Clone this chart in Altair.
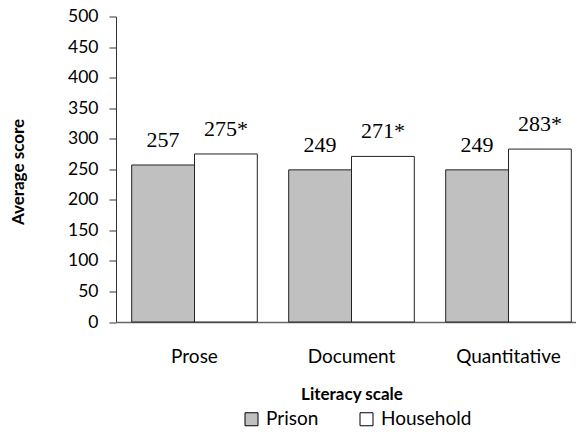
import altair as alt
import pandas as pd

categories = ["Prose", "Document", "Quantitative"]
groups = ["Prison", "Household"]
prison_scores = [257, 249, 249]
household_scores = [275, 271, 283]
household_marks = ["*", "*", "*"]
y_ticks = [0, 50, 100, 150, 200, 250, 300, 350, 400, 450, 500]

rows = []
for i, c in enumerate(categories):
    rows.append({"scale": c, "group": groups[0], "score": prison_scores[i],
                 "label": str(prison_scores[i])})
    rows.append({"scale": c, "group": groups[1], "score": household_scores[i],
                 "label": f"{household_scores[i]}{household_marks[i]}"})
df = pd.DataFrame(rows)

FONT = "Lato"

x = alt.X(
    "scale:N", sort=categories,
    scale=alt.Scale(range=[0, 471], paddingInner=0.2, paddingOuter=0.1),
    axis=alt.Axis(
        title="Literacy scale", labelAngle=0, ticks=False, tickSize=0,
        labelPadding=40, labelBaseline="alphabetic", labelFont=FONT,
        labelFontSize=19, labelColor="black", domainColor="#666666",
        domainWidth=1.5, titleFont=FONT, titleFontWeight="bold",
        titleFontSize=17, titleY=77.3, titleBaseline="alphabetic",
        titleColor="black",
    ),
)
xo = alt.XOffset("group:N", sort=groups,
                 scale=alt.Scale(paddingInner=0, paddingOuter=0))
y = alt.Y(
    "score:Q", scale=alt.Scale(domain=[0, 500], nice=False),
    axis=alt.Axis(
        values=y_ticks, title="Average score", grid=False, tickSize=7,
        tickColor="#333333", domainColor="#333333", labelFont=FONT,
        labelFontSize=17.5, labelPadding=11, labelColor="black",
        titleFont=FONT, titleFontWeight="bold", titleFontSize=17,
        titleColor="black", titleX=-93, titleY=155,
        titleBaseline="alphabetic", titleAngle=270,
    ),
)
color = alt.Color(
    "group:N", sort=groups,
    scale=alt.Scale(domain=groups, range=["#c0c0c0", "#ffffff"]),
    legend=alt.Legend(
        title=None, orient="none", direction="horizontal", legendX=126,
        legendY=393, symbolType="square", symbolSize=169,
        symbolStrokeColor="black", symbolStrokeWidth=1, symbolOpacity=1,
        labelFont=FONT, labelFontSize=19, labelColor="black",
        labelOffset=5, columnPadding=38,
    ),
)

bars = alt.Chart(df).mark_bar(stroke="#222222", strokeWidth=1, opacity=1).encode(
    x=x, xOffset=xo, y=y, color=color
)
texts = alt.Chart(df).mark_text(
    dy=-18, baseline="alphabetic", align="center",
    font="Liberation Serif", fontSize=22, color="black"
).encode(x=x, xOffset=xo, y=y, text="label:N")

chart = (
    alt.layer(bars, texts)
    .properties(
        width=460, height=305.5,
        autosize=alt.AutoSizeParams(type="none"),
        padding={"left": 108, "top": 8.5, "right": 0, "bottom": 110},
    )
    .configure_view(stroke=None)
)

chart.save("out.html", embed_options={"renderer": "svg", "actions": False})
